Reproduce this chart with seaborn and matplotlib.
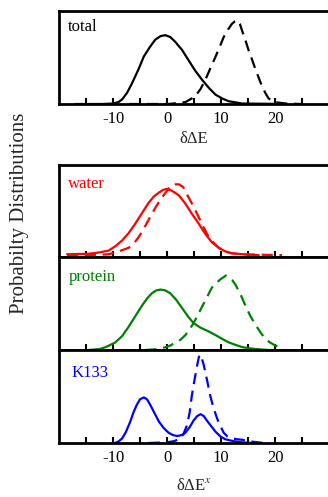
import matplotlib
matplotlib.use("Agg")
import matplotlib.pyplot as plt
import numpy as np
import pandas as pd
import seaborn as sns

sns.set_style("ticks")
plt.rcParams["font.family"] = ["Liberation Serif", "DejaVu Serif"]
plt.rcParams["mathtext.fontset"] = "stix"

# curves (x = deltaDeltaE, y = height as fraction of panel)
total_solid_x = [-17, -12, -10, -9, -8.3, -7.4, -6.5, -5.3, -4.3, -3.2, -2.2, -1.2, -0.3, 0.6, 1.5, 2.8, 4, 5.2, 6.5, 7.8, 9, 10.2, 11.4, 13.9, 22]
total_solid_y = [0, 0, 0.005, 0.02, 0.05, 0.12, 0.22, 0.37, 0.51, 0.61, 0.69, 0.73, 0.74, 0.72, 0.67, 0.58, 0.47, 0.36, 0.26, 0.17, 0.10, 0.06, 0.03, 0.005, 0]
total_dash_x = [-7, 0.3, 3.4, 5.2, 6.2, 7.1, 8, 9, 9.8, 10.5, 11.3, 12, 12.6, 13, 13.5, 13.9, 14.5, 15.1, 15.8, 16.4, 17, 17.6, 18.2, 18.8, 20, 22, 25]
total_dash_y = [0, 0, 0.02, 0.08, 0.16, 0.26, 0.38, 0.51, 0.62, 0.72, 0.80, 0.86, 0.89, 0.90, 0.86, 0.79, 0.69, 0.58, 0.47, 0.37, 0.28, 0.19, 0.12, 0.06, 0.02, 0.005, 0]

water_solid_x = [-18.5, -14.5, -12.5, -10.8, -9.5, -8.3, -7.1, -5.9, -4.6, -3.4, -2.4, -1.5, -0.7, 0, 0.9, 2.2, 3.4, 4.6, 5.9, 7.1, 8.3, 9.6, 10.8, 12, 15.1, 17]
water_solid_y = [0.03, 0.035, 0.05, 0.07, 0.12, 0.18, 0.26, 0.36, 0.48, 0.59, 0.66, 0.70, 0.73, 0.74, 0.72, 0.67, 0.58, 0.47, 0.36, 0.25, 0.16, 0.10, 0.06, 0.04, 0.025, 0.02]
water_dash_x = [-18.5, -12, -10.8, -9, -7.1, -6.1, -5.2, -4, -2.8, -1.8, -0.9, 0, 0.6, 1.4, 2.2, 3, 3.7, 4.8, 5.9, 6.8, 7.7, 9, 10.2, 12, 13.9, 17, 21.3]
water_dash_y = [0.02, 0.025, 0.03, 0.06, 0.10, 0.15, 0.22, 0.34, 0.47, 0.57, 0.65, 0.72, 0.77, 0.79, 0.79, 0.76, 0.68, 0.56, 0.43, 0.32, 0.22, 0.13, 0.07, 0.04, 0.03, 0.025, 0.02]

protein_solid_x = [-14.5, -12.5, -11.4, -9.6, -8.3, -7.1, -5.8, -4.6, -3.6, -2.8, -2, -1.2, -0.3, 0.6, 1.7, 2.8, 3.9, 4.9, 6.2, 7.7, 9, 10.2, 11.5, 12.7, 14, 15.1, 16.5, 18.8]
protein_solid_y = [0, 0.01, 0.03, 0.08, 0.15, 0.25, 0.37, 0.48, 0.56, 0.61, 0.64, 0.65, 0.64, 0.61, 0.54, 0.45, 0.36, 0.29, 0.24, 0.20, 0.16, 0.12, 0.08, 0.055, 0.03, 0.02, 0.01, 0]
protein_dash_x = [-4, -1.5, -0.3, 0.7, 1.5, 2.5, 3.4, 4.3, 5.2, 6, 6.8, 7.6, 8.3, 9.1, 9.9, 10.4, 10.9, 11.5, 12.1, 12.7, 13.6, 14.5, 15.4, 16.4, 17.3, 18.2, 19.1, 20, 20.8, 21.6]
protein_dash_y = [0, 0.01, 0.03, 0.05, 0.08, 0.11, 0.16, 0.23, 0.32, 0.41, 0.50, 0.59, 0.67, 0.72, 0.76, 0.78, 0.80, 0.78, 0.75, 0.70, 0.60, 0.48, 0.37, 0.27, 0.19, 0.12, 0.08, 0.05, 0.03, 0.01]

k133_solid_x = [-9.6, -8.9, -8.3, -7.6, -6.8, -6.2, -5.6, -5, -4.3, -3.7, -3.1, -2.3, -1.5, -0.6, 0.3, 1.1, 1.9, 2.7, 3.4, 4.2, 4.9, 5.6, 6.2, 6.8, 7.4, 8.2, 9, 9.9, 10.8, 12.3, 13.9, 16]
k133_solid_y = [0, 0.02, 0.05, 0.12, 0.23, 0.33, 0.41, 0.47, 0.49, 0.47, 0.41, 0.32, 0.23, 0.16, 0.11, 0.085, 0.075, 0.085, 0.11, 0.17, 0.24, 0.29, 0.31, 0.29, 0.24, 0.18, 0.12, 0.07, 0.04, 0.02, 0.007, 0]
k133_dash_x = [-3.4, -1, 0.3, 1.3, 2.2, 3, 3.7, 4.2, 4.6, 5.1, 5.6, 6, 6.4, 6.8, 7.4, 8, 8.6, 9.3, 9.9, 10.5, 11.2, 12, 13, 13.9, 15, 16.4, 18]
k133_dash_y = [0, 0.005, 0.01, 0.02, 0.04, 0.09, 0.19, 0.33, 0.51, 0.68, 0.84, 0.95, 0.92, 0.84, 0.68, 0.51, 0.38, 0.26, 0.18, 0.11, 0.07, 0.05, 0.04, 0.035, 0.02, 0.01, 0]

panel_names = ["total", "water", "protein", "K133"]
panel_colors = ["black", "#ff0000", "#008000", "#0000ff"]
curves = [
    (total_solid_x, total_solid_y, total_dash_x, total_dash_y),
    (water_solid_x, water_solid_y, water_dash_x, water_dash_y),
    (protein_solid_x, protein_solid_y, protein_dash_x, protein_dash_y),
    (k133_solid_x, k133_solid_y, k133_dash_x, k133_dash_y),
]
tick_pos = [-15, -10, -5, 0, 5, 10, 15, 20, 25]
tick_lab = ["", "-10", "", "0", "", "10", "", "20", ""]

W, H = 328, 497
fig = plt.figure(figsize=(W / 100, H / 100), dpi=100)
# panel pixel boxes (top, bottom)
boxes = [(11, 104), (165, 257), (257, 350), (350, 443)]
label_y = [0.83, 0.79, 0.78, 0.75]
label_x = [0.032, 0.032, 0.035, 0.045]

for i, (top, bot) in enumerate(boxes):
    ax = fig.add_axes([59 / W, 1 - bot / H, 270 / W, (bot - top) / H])
    sx, sy, dx, dy = curves[i]
    c = panel_colors[i]
    df_s = pd.DataFrame({"x": sx, "y": sy})
    df_d = pd.DataFrame({"x": dx, "y": dy})
    sns.lineplot(data=df_s, x="x", y="y", ax=ax, color=c, lw=1.6, sort=False)
    sns.lineplot(data=df_d, x="x", y="y", ax=ax, color=c, lw=1.6, sort=False,
                 dashes=False, linestyle=(0, (5, 3)))
    ax.set_xlim(-20, 30)
    ax.set_ylim(0, 1.0)
    ax.set_yticks([])
    ax.set_ylabel("")
    ax.set_xticks(tick_pos)
    if i in (0, 3):
        ax.set_xticklabels(tick_lab, fontsize=12)
    else:
        ax.set_xticklabels([])
    ax.tick_params(axis="x", direction="in", length=4, width=1.5, pad=5, colors="black")
    for sp in ax.spines.values():
        sp.set_linewidth(2)
        sp.set_color("black")
    ax.text(label_x[i], label_y[i], panel_names[i], transform=ax.transAxes,
            color=c, fontsize=12, va="center", ha="left")
    if i == 0:
        ax.set_xlabel("δΔE", fontsize=12, labelpad=3)
    elif i == 3:
        ax.set_xlabel(r"δΔE$^{x}$", fontsize=12, labelpad=9)
    else:
        ax.set_xlabel("")

fig.text(20 / W, 1 - 213 / H, "Probabilty Distributions", rotation=90,
         ha="center", va="center", fontsize=15)

fig.savefig("out.png", dpi=100)
